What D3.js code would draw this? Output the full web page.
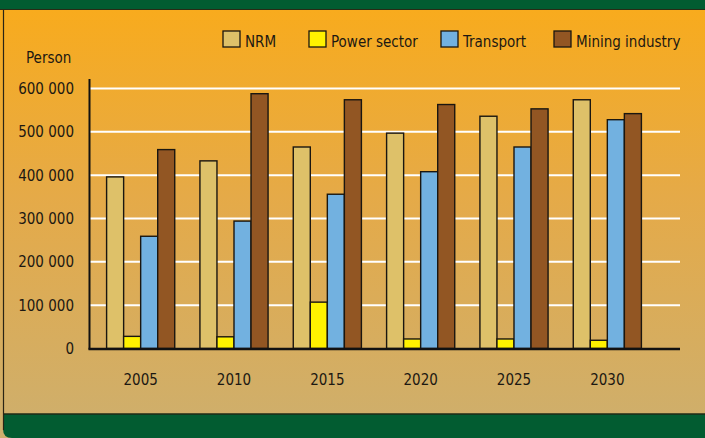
<!DOCTYPE html>
<html>
<head>
<meta charset="utf-8">
<script src="https://cdn.jsdelivr.net/npm/d3@7"></script>
<style>
  html, body { margin: 0; padding: 0; background: #fff; }
  svg { display: block; }
  text { font-family: "Liberation Sans Narrow", "DejaVu Sans Condensed", "Arial Narrow", sans-serif; fill: #1c1812; font-size: 15px; }
</style>
</head>
<body>
<div id="chart"></div>
<script>
const years = ["2005", "2010", "2015", "2020", "2025", "2030"];
const seriesNames = ["NRM", "Power sector", "Transport", "Mining industry"];
const nrm = [396000, 433000, 465000, 497000, 536000, 574000];
const power = [28000, 27000, 107000, 22000, 22000, 19000];
const transport = [259000, 294000, 356000, 408000, 465000, 528000];
const mining = [459000, 588000, 574000, 563000, 553000, 542000];
const yTicks = [0, 100000, 200000, 300000, 400000, 500000, 600000];
const colors = ["#dec169", "#fff200", "#72b1e0", "#925623"];

const W = 705, H = 438;

const svg = d3.select("#chart")
    .append("svg")
    .attr("width", W)
    .attr("height", H);

// background panel
const defs = svg.append("defs");
const grad = defs.append("linearGradient")
    .attr("id", "bg")
    .attr("x1", 0).attr("y1", 0).attr("x2", 0).attr("y2", 1);
grad.append("stop").attr("offset", "0%").attr("stop-color", "#f9ab1b");
grad.append("stop").attr("offset", "45%").attr("stop-color", "#e5aa48");
grad.append("stop").attr("offset", "100%").attr("stop-color", "#cdaf6e");

svg.append("rect")
    .attr("x", 0).attr("y", 0).attr("width", W).attr("height", H)
    .attr("fill", "url(#bg)");

svg.append("rect")
    .attr("x", 0).attr("y", 0).attr("width", W).attr("height", 9)
    .attr("fill", "#025c31");
svg.append("line")
    .attr("x1", 0).attr("x2", W).attr("y1", 9.5).attr("y2", 9.5)
    .attr("stroke", "#2a2a14").attr("stroke-width", 1);

svg.append("path")
    .attr("d", `M3,414 H${W} V${H} H12 Q3,${H} 3,429 Z`)
    .attr("fill", "#025c31");
svg.append("line")
    .attr("x1", 3).attr("x2", W).attr("y1", 414).attr("y2", 414)
    .attr("stroke", "#1e2a16").attr("stroke-width", 1.5);
svg.append("line")
    .attr("x1", 3.5).attr("x2", 3.5).attr("y1", 10).attr("y2", 430)
    .attr("stroke", "#2a2414").attr("stroke-width", 1.2);

// scales
const x = d3.scaleBand()
    .domain(years)
    .range([94, 654])
    .paddingInner(0.27)
    .paddingOuter(0.135);

const xs = d3.scaleBand()
    .domain(seriesNames)
    .range([0, x.bandwidth()]);

const y = d3.scaleLinear()
    .domain([0, 600000])
    .range([348.5, 88.5]);

const g = svg.append("g");

// gridlines
g.selectAll(".grid")
    .data(yTicks.slice(1))
    .enter()
    .append("line")
    .attr("class", "grid")
    .attr("x1", 89).attr("x2", 680)
    .attr("y1", d => y(d)).attr("y2", d => y(d))
    .attr("stroke", "#ffffff")
    .attr("stroke-width", 2);

// y tick labels
const fmt = d => d === 0 ? "0" : d3.format(",")(d).replace(/,/g, " ");
g.selectAll(".ylab")
    .data(yTicks)
    .enter()
    .append("text")
    .attr("class", "ylab")
    .attr("x", 74)
    .attr("y", d => y(d))
    .attr("dy", "0.36em")
    .attr("text-anchor", "end")
    .text(fmt);

// bars
const rows = years.map((yr, i) => ({
    year: yr,
    values: [nrm[i], power[i], transport[i], mining[i]]
}));

const groups = g.selectAll(".grp")
    .data(rows)
    .enter()
    .append("g")
    .attr("class", "grp")
    .attr("transform", d => `translate(${x(d.year)},0)`);

groups.selectAll("rect")
    .data(d => d.values.map((v, j) => ({ name: seriesNames[j], value: v, j })))
    .enter()
    .append("rect")
    .attr("x", d => xs(d.name))
    .attr("y", d => y(d.value))
    .attr("width", xs.bandwidth())
    .attr("height", d => y(0) - y(d.value))
    .attr("fill", d => colors[d.j])
    .attr("stroke", "#1a1610")
    .attr("stroke-width", 1.4);

// axes lines
g.append("line")
    .attr("x1", 89.5).attr("x2", 89.5)
    .attr("y1", 79).attr("y2", 349.5)
    .attr("stroke", "#111").attr("stroke-width", 2);
g.append("line")
    .attr("x1", 88.5).attr("x2", 680)
    .attr("y1", 349).attr("y2", 349)
    .attr("stroke", "#111").attr("stroke-width", 2.5);

// x labels
g.selectAll(".xlab")
    .data(years)
    .enter()
    .append("text")
    .attr("class", "xlab")
    .attr("x", d => x(d) + x.bandwidth() / 2)
    .attr("y", 385)
    .attr("text-anchor", "middle")
    .text(d => d);

// unit label
svg.append("text")
    .attr("x", 26)
    .attr("y", 62.5)
    .text("Person");

// legend
const legendX = [223, 309, 441, 554];
const legend = svg.selectAll(".leg")
    .data(seriesNames)
    .enter()
    .append("g")
    .attr("class", "leg")
    .attr("transform", (d, i) => `translate(${legendX[i]},31)`);

legend.append("rect")
    .attr("width", 17).attr("height", 16)
    .attr("fill", (d, i) => colors[i])
    .attr("stroke", "#1a1610")
    .attr("stroke-width", 1.3);

legend.append("text")
    .attr("x", 22)
    .attr("y", 15.5)
    .text(d => d);
</script>
</body>
</html>
